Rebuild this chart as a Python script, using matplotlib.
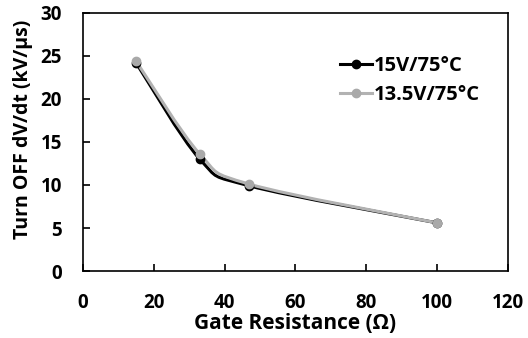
import matplotlib
matplotlib.use('Agg')
import matplotlib.pyplot as plt
import numpy as np
from matplotlib.path import Path
from matplotlib.patches import PathPatch
from matplotlib.lines import Line2D

plt.rcParams['font.family'] = ['Open Sans', 'DejaVu Sans']
plt.rcParams['font.weight'] = 'bold'

gate_res = [15, 33, 47, 100]
dvdt_15v = [24.2, 13.0, 9.9, 5.6]
dvdt_135v = [24.4, 13.6, 10.1, 5.6]
series_names = ['15V/75°C', '13.5V/75°C']
colors = ['#000000', '#b2b2b2']
mcolors = ['#000000', '#a9a9a9']


def smooth_path(x, y, t=1/6.):
    # excel-ish smoothed line as cubic bezier segments through the points
    x = np.asarray(x, float)
    y = np.asarray(y, float)
    n = len(x)
    verts = [(x[0], y[0])]
    codes = [Path.MOVETO]
    for i in range(n - 1):
        p0 = np.array([x[max(i - 1, 0)], y[max(i - 1, 0)]])
        p1 = np.array([x[i], y[i]])
        p2 = np.array([x[i + 1], y[i + 1]])
        p3 = np.array([x[min(i + 2, n - 1)], y[min(i + 2, n - 1)]])
        c1 = p1 + (p2 - p0) * t
        c2 = p2 - (p3 - p1) * t
        verts += [tuple(c1), tuple(c2), tuple(p2)]
        codes += [Path.CURVE4] * 3
    return Path(verts, codes)


fig = plt.figure(figsize=(5.28, 3.38), dpi=100)
ax = fig.add_axes([0.157, 0.198, 0.805, 0.764])

handles = []
for ys, c, mc, name in zip([dvdt_15v, dvdt_135v], colors, mcolors, series_names):
    patch = PathPatch(smooth_path(gate_res, ys), facecolor='none', edgecolor=c, lw=2.2)
    ax.add_patch(patch)
    ax.plot(gate_res, ys, linestyle='none', marker='o', ms=6, color=mc, mec=mc)
    handles.append(Line2D([], [], color=c, lw=2.2, marker='o', ms=6, mfc=mc, mec=mc))

ax.set_xlim(0, 120)
ax.set_ylim(0, 30)
ax.set_xticks(range(0, 121, 20))
ax.set_yticks(range(0, 31, 5))
ax.tick_params(direction='in', length=5, width=1.2, labelsize=13.5)
ax.tick_params(axis='x', pad=16)
ax.tick_params(axis='y', pad=15)
for s in ax.spines.values():
    s.set_linewidth(1.2)

ax.set_xlabel('Gate Resistance (Ω)', fontsize=15, fontweight='bold', labelpad=0)
ax.set_ylabel('Turn OFF dV/dt (kV/μs)', fontsize=14, fontweight='bold')
ax.yaxis.set_label_coords(-0.118, 0.55)

ax.legend(handles, series_names, loc='upper left', bbox_to_anchor=(0.585, 0.865),
          frameon=False, fontsize=14.5, handlelength=1.6, handletextpad=0.1,
          labelspacing=0.45, borderaxespad=0)

fig.savefig('out.png', dpi=100)
